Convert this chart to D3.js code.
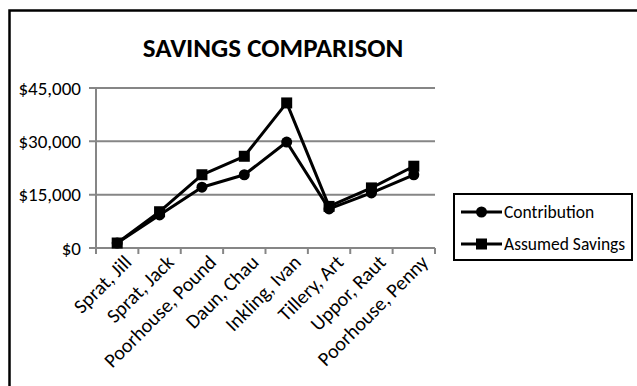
<!DOCTYPE html>
<html>
<head>
<meta charset="utf-8">
<script src="https://cdn.jsdelivr.net/npm/d3@7"></script>
<style>
  body { margin: 0; background: #fff; }
  text { font-family: Carlito, Lato, "Liberation Sans", sans-serif; fill: #000; }
</style>
</head>
<body>
<div id="chart"></div>
<script>
const categories = ["Sprat, Jill", "Sprat, Jack", "Poorhouse, Pound", "Daun, Chau",
                    "Inkling, Ivan", "Tillery, Art", "Uppor, Raut", "Poorhouse, Penny"];
const contribution = [1400, 9300, 17100, 20600, 29800, 11000, 15500, 20600];
const assumedSavings = [1400, 10200, 20600, 25800, 40800, 11700, 16900, 23000];
const yTicks = [0, 15000, 30000, 45000];

const W = 637, H = 386;
const plot = {left: 96, right: 435, top: 88, bottom: 248};

const svg = d3.select("#chart")
    .append("svg")
    .attr("width", W)
    .attr("height", H);

// chart frame (runs off the right/bottom edge like the original)
svg.append("rect")
    .attr("x", 9.5)
    .attr("y", 10.5)
    .attr("width", 660)
    .attr("height", 420)
    .attr("fill", "none")
    .attr("stroke", "#000")
    .attr("stroke-width", 2.5);

svg.append("text")
    .attr("x", 273)
    .attr("y", 57)
    .attr("text-anchor", "middle")
    .style("font-size", "27px")
    .style("font-weight", "bold")
    .text("SAVINGS COMPARISON");

const x = d3.scaleBand()
    .domain(categories)
    .range([plot.left, plot.right]);

const y = d3.scaleLinear()
    .domain([0, 45000])
    .range([plot.bottom, plot.top]);

const grey = "#868686";

// gridlines + y ticks
svg.append("g")
    .selectAll("line")
    .data(yTicks)
    .enter().append("line")
    .attr("x1", plot.left - 7)
    .attr("x2", plot.right)
    .attr("y1", d => y(d))
    .attr("y2", d => y(d))
    .attr("stroke", grey)
    .attr("stroke-width", 2);

svg.append("g")
    .selectAll("text")
    .data(yTicks)
    .enter().append("text")
    .attr("x", plot.left - 15)
    .attr("y", d => y(d))
    .attr("dy", "0.35em")
    .attr("text-anchor", "end")
    .style("font-size", "19px")
    .text(d => "$" + d3.format(",")(d));

// y axis line
svg.append("line")
    .attr("x1", plot.left).attr("x2", plot.left)
    .attr("y1", plot.top).attr("y2", plot.bottom)
    .attr("stroke", grey)
    .attr("stroke-width", 2);

// x tick marks at category boundaries
const bounds = categories.map(c => x(c)).concat([plot.right]);
svg.append("g")
    .selectAll("line")
    .data(bounds)
    .enter().append("line")
    .attr("x1", d => d).attr("x2", d => d)
    .attr("y1", plot.bottom).attr("y2", plot.bottom + 6)
    .attr("stroke", grey)
    .attr("stroke-width", 2);

// category labels rotated -45
svg.append("g")
    .selectAll("text")
    .data(categories)
    .enter().append("text")
    .attr("transform", d => `translate(${x(d) + x.bandwidth() / 2 + 5},${plot.bottom + 5}) rotate(-45)`)
    .attr("text-anchor", "end")
    .attr("dy", "0.75em")
    .style("font-size", "20px")
    .text(d => d);

const cx = c => x(c) + x.bandwidth() / 2;

const line = d3.line()
    .x((d, i) => cx(categories[i]))
    .y(d => y(d));

const series = [
    {label: "Contribution", values: contribution, marker: "circle"},
    {label: "Assumed Savings", values: assumedSavings, marker: "square"}
];

series.forEach(s => {
    svg.append("path")
        .attr("d", line(s.values))
        .attr("fill", "none")
        .attr("stroke", "#000")
        .attr("stroke-width", 3)
        .attr("stroke-linejoin", "round");
});

function drawMarker(g, type, px, py) {
    if (type === "circle") {
        g.append("circle").attr("cx", px).attr("cy", py).attr("r", 5.5).attr("fill", "#000");
    } else {
        g.append("rect").attr("x", px - 5.5).attr("y", py - 5.5)
            .attr("width", 11).attr("height", 11).attr("fill", "#000");
    }
}

series.forEach(s => {
    const g = svg.append("g");
    s.values.forEach((v, i) => drawMarker(g, s.marker, cx(categories[i]), y(v)));
});

// legend
const legend = svg.append("g");
legend.append("rect")
    .attr("x", 454)
    .attr("y", 194)
    .attr("width", 178)
    .attr("height", 66)
    .attr("fill", "#fff")
    .attr("stroke", "#000")
    .attr("stroke-width", 2);

series.forEach((s, i) => {
    const ly = 212 + i * 32;
    const row = legend.append("g");
    row.append("line")
        .attr("x1", 461).attr("x2", 502)
        .attr("y1", ly).attr("y2", ly)
        .attr("stroke", "#000")
        .attr("stroke-width", 3);
    drawMarker(row, s.marker, 481.5, ly);
    row.append("text")
        .attr("x", 504)
        .attr("y", ly)
        .attr("dy", "0.35em")
        .style("font-size", "17.5px")
        .text(s.label);
});
</script>
</body>
</html>
